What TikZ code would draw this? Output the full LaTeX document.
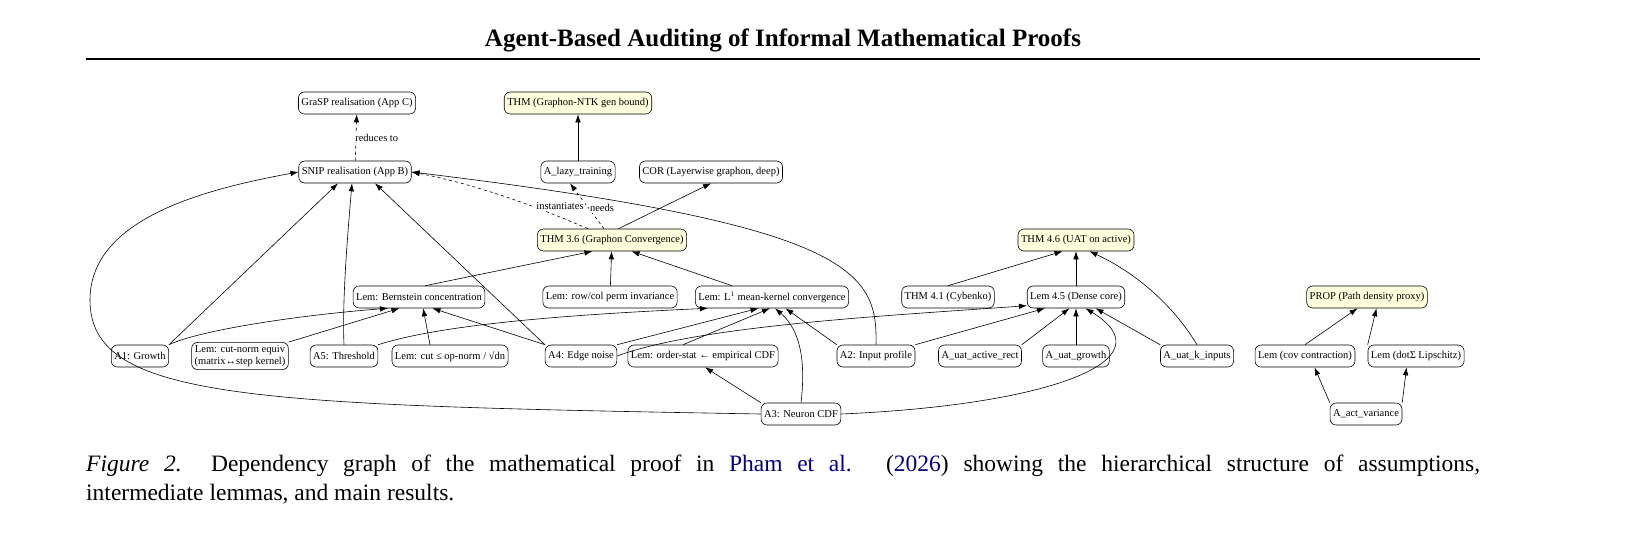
\documentclass[tikz,border=0pt]{standalone}
\usepackage{fontspec}
\setmainfont{Liberation Serif}
\usetikzlibrary{arrows.meta}
\definecolor{thmfill}{RGB}{255,255,221}
\definecolor{citeblue}{RGB}{0,0,128}
\tikzset{
  box/.style={draw, rounded corners=6pt, inner sep=3pt, minimum height=22pt,
    font=\fontsize{10.5}{12}\selectfont, align=center, line width=0.6pt},
  thm/.style={box, fill=thmfill},
  dep/.style={-{Latex[length=8pt,width=5.5pt]}, line width=0.6pt},
  lbl/.style={font=\fontsize{10.5}{12}\selectfont, fill=white, inner sep=1pt}
}
\begin{document}
\begin{tikzpicture}[x=1pt, y=-1pt]
\useasboundingbox (0,0) rectangle (1639,541);
% title and rule
\node (title) at (783,40) {\fontsize{25}{28}\selectfont\bfseries Agent-Based Auditing of Informal Mathematical Proofs};
\draw [line width=2pt] (86,59) -- (1480,59);
% top rows
\node [box] (grasp) at (357,103) {GraSP realisation (App C)};
\node [thm] (ntk) at (578,103) {THM (Graphon-NTK gen bound)};
\node [box] (snip) at (355,172) {SNIP realisation (App B)};
\node [box] (lazy) at (578,172) {A\_lazy\_training};
\node [box] (cor) at (711,172) {COR (Layerwise graphon, deep)};
\node [thm] (thm36) at (612,240) {THM 3.6 (Graphon Convergence)};
\node [thm] (thm46) at (1076,240) {THM 4.6 (UAT on active)};
% lemma row
\node [box] (bern) at (419,297) {Lem: Bernstein concentration};
\node [box] (rowcol) at (610,297) {Lem: row/col perm invariance};
\node [box] (lone) at (772,297) {Lem: L$^1$ mean-kernel convergence};
\node [box] (thm41) at (948,297) {THM 4.1 (Cybenko)};
\node [box] (lem45) at (1076,297) {Lem 4.5 (Dense core)};
\node [thm] (prop) at (1367,297) {PROP (Path density proxy)};
% assumption row
\node [box] (aone) at (140,356) {A1: Growth};
\node [box] (cutnorm) at (240,356) {Lem: cut-norm equiv\\(matrix↔step kernel)};
\node [box] (afive) at (344,356) {A5: Threshold};
\node [box] (cutop) at (450,356) {Lem: cut ≤ op-norm / √dn};
\node [box] (afour) at (581,356) {A4: Edge noise};
\node [box] (ordstat) at (703,356) {Lem: order-stat ← empirical CDF};
\node [box] (atwo) at (876,356) {A2: Input profile};
\node [box] (uatrect) at (980,356) {A\_uat\_active\_rect};
\node [box] (uatgrowth) at (1076,356) {A\_uat\_growth};
\node [box] (uatk) at (1197,356) {A\_uat\_k\_inputs};
\node [box] (covc) at (1305,356) {Lem (cov contraction)};
\node [box] (dotsig) at (1416,356) {Lem (dotΣ Lipschitz)};
\node [box] (athree) at (801,414) {A3: Neuron CDF};
\node [box] (actvar) at (1366,414) {A\_act\_variance};
% edges
\draw [dep, dashed] (snip) -- node [lbl, right, xshift=-2pt] {reduces to} (grasp);
\draw [dep] (lazy) -- (ntk);
\draw [dep, dashed] ([xshift=-8pt]thm36.north) -- node [lbl, right, pos=0.45] {needs} ([xshift=-8pt]lazy.south);
\draw [dep, dashed] (thm36.155) .. controls (545,210) and (480,185) .. (snip.east);
\node [lbl] (inst) at (560,206) {instantiates};
\draw [dep] (thm36.60) -- (cor.south);
\draw [dep] (aone.north east) -- ([xshift=-17pt]snip.south);
\draw [dep] (afive.north) .. controls (342,300) and (348,230) .. ([xshift=-3pt]snip.south);
\draw [dep] (afour.north west) -- ([xshift=20pt]snip.south);
\draw [dep] (athree.west) .. controls (250,405) and (90,400) .. (90,300) .. controls (90,220) and (200,190) .. (snip.west);
\draw [dep] (atwo.north) .. controls (878,270) and (850,225) .. (snip.east);
\draw [dep] ([xshift=-60pt]bern.north east) -- (thm36.-150);
\draw [dep] (rowcol) -- (thm36);
\draw [dep] ([xshift=-40pt]lone.north) -- (thm36.-30);
\draw [dep] (aone.north east) .. controls (200,330) and (300,315) .. (bern.200);
\draw [dep] (cutnorm.north east) -- (bern.-150);
\draw [dep] ([xshift=-20pt]cutop.north) -- (bern.-70);
\draw [dep] (afour.north west) -- (bern.-40);
\draw [dep] (afive.north east) .. controls (440,325) and (560,315) .. (lone.-170);
\draw [dep] (afour.north east) -- (lone.-140);
\draw [dep] (afour.east) .. controls (700,325) and (900,315) .. (lem45.-170);
\draw [dep] ([xshift=-20pt]ordstat.north) -- (lone.-100);
\draw [dep] (athree.north) .. controls (806,360) and (800,330) .. (lone.-75);
\draw [dep] (atwo.north west) -- (lone.-40);
\draw [dep] (athree.north west) -- (ordstat.-80);
\draw [dep] (thm41.north) -- (thm46.-140);
\draw [dep] (lem45) -- (thm46);
\draw [dep] (uatk.north) .. controls (1170,300) and (1130,270) .. (thm46.-40);
\draw [dep] (atwo.north east) -- (lem45.-160);
\draw [dep] (uatrect.north east) -- (lem45.-120);
\draw [dep] (uatgrowth) -- (lem45);
\draw [dep] (uatk.north west) -- (lem45.-30);
\draw [dep] (athree.east) .. controls (1050,405) and (1170,360) .. (lem45.-50);
\draw [dep] (covc.north) -- (prop.-130);
\draw [dep] (dotsig.north west) -- (prop.-50);
\draw [dep] (actvar.north west) -- (covc.-50);
\draw [dep] (actvar.north east) -- (dotsig.-130);
% caption
\node [anchor=base west, inner sep=0pt] (capone) at (86,471) {\fontsize{23.5}{28}\selectfont\makebox[1394pt][s]{\textit{Figure 2.}\ \ Dependency graph of the mathematical proof in \textcolor{citeblue}{Pham et al.} (\textcolor{citeblue}{2026}) showing the hierarchical structure of assumptions,}};
\node [anchor=base west, inner sep=0pt] (captwo) at (86,500) {\fontsize{23.5}{28}\selectfont intermediate lemmas, and main results.};
\end{tikzpicture}
\end{document}
